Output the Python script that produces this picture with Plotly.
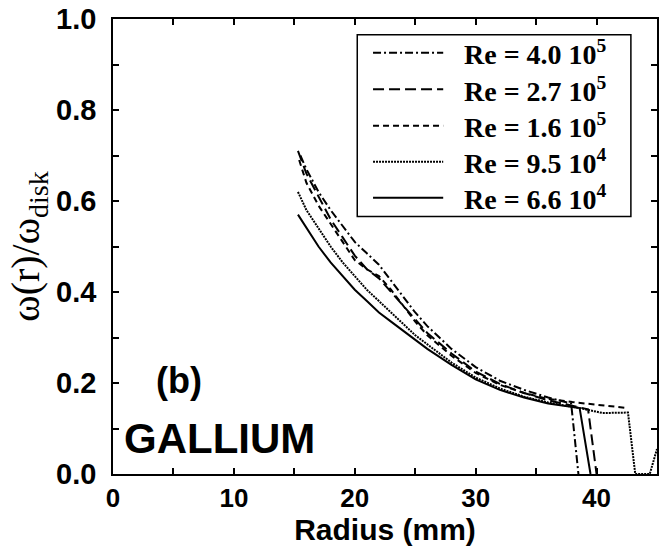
import plotly.graph_objects as go

# Re = 4.0 10^5 (dash-dot)
r_40e5 = [15.5, 16, 17, 18, 19, 20, 21, 22, 23, 24, 25, 26, 28, 30, 32, 34, 36, 37.9, 38.5]
w_40e5 = [0.70, 0.67, 0.62, 0.58, 0.545, 0.51, 0.485, 0.46, 0.425, 0.39, 0.355, 0.325, 0.275, 0.235, 0.205, 0.185, 0.168, 0.155, 0.0]
# Re = 2.7 10^5 (long dash)
r_27e5 = [15.3, 16, 17, 18, 19, 20, 21, 22, 23, 24, 25, 26, 28, 30, 32, 34, 36, 38, 39.3, 40.0]
w_27e5 = [0.71, 0.66, 0.61, 0.56, 0.52, 0.48, 0.45, 0.43, 0.40, 0.37, 0.34, 0.31, 0.265, 0.225, 0.198, 0.178, 0.162, 0.150, 0.142, 0.0]
# Re = 1.6 10^5 (short dash)
r_16e5 = [15.4, 16, 17, 18, 19, 20, 21, 22, 23, 24, 25, 26, 28, 30, 32, 34, 36, 38, 40, 42.6]
w_16e5 = [0.69, 0.64, 0.59, 0.55, 0.51, 0.47, 0.45, 0.435, 0.405, 0.37, 0.335, 0.305, 0.26, 0.222, 0.196, 0.178, 0.165, 0.158, 0.152, 0.145]
# Re = 9.5 10^4 (dotted)
r_95e4 = [15.3, 16, 17, 18, 19, 20, 21, 22, 23, 24, 25, 26, 28, 30, 32, 34, 36, 38.6, 40.5, 42.6, 43.2, 44.4, 45.0]
w_95e4 = [0.62, 0.58, 0.54, 0.50, 0.465, 0.435, 0.405, 0.38, 0.355, 0.33, 0.305, 0.285, 0.245, 0.212, 0.188, 0.170, 0.157, 0.145, 0.134, 0.135, 0.0, 0.0, 0.055]
# Re = 6.6 10^4 (solid)
r_66e4 = [15.3, 16, 17, 18, 19, 20, 21, 22, 23, 24, 25, 26, 28, 30, 32, 34, 36, 38.6, 39.5]
w_66e4 = [0.57, 0.54, 0.50, 0.465, 0.435, 0.405, 0.38, 0.355, 0.335, 0.315, 0.295, 0.275, 0.24, 0.208, 0.185, 0.168, 0.155, 0.145, 0.0]

labels = ["Re = 4.0 10<sup>5</sup>", "Re = 2.7 10<sup>5</sup>", "Re = 1.6 10<sup>5</sup>",
          "Re = 9.5 10<sup>4</sup>", "Re = 6.6 10<sup>4</sup>"]
xs = [r_40e5, r_27e5, r_16e5, r_95e4, r_66e4]
ys = [w_40e5, w_27e5, w_16e5, w_95e4, w_66e4]
dashes = ["8px,3px,2px,3px", "11px,5px", "6px,4px", "2px,1px", "solid"]

fig = go.Figure()
for x, y, lab, d in zip(xs, ys, labels, dashes):
    fig.add_trace(go.Scatter(x=x, y=y, mode="lines", name=lab, showlegend=False,
                             line=dict(color="black", width=2, dash=d)))

# Hand-drawn legend box (paper coordinates) so sample lines can be long
box_x0, box_x1, box_y0, box_y1 = 0.449, 0.952, 0.566, 0.9655
row_y = [0.926, 0.8455, 0.7655, 0.686, 0.607]
fig.add_shape(type="rect", xref="paper", yref="paper", x0=box_x0, x1=box_x1, y0=box_y0, y1=box_y1,
              line=dict(color="black", width=1.5), fillcolor="white", layer="above")
for yy, lab, d in zip(row_y, labels, dashes):
    fig.add_shape(type="line", xref="paper", yref="paper", x0=0.478, x1=0.607, y0=yy, y1=yy,
                  line=dict(color="black", width=2, dash=d), layer="above")
    fig.add_annotation(x=0.641, y=yy, xref="paper", yref="paper", text=lab, showarrow=False,
                       xanchor="left", yanchor="middle",
                       font=dict(family="Liberation Serif", size=28, color="black", weight="bold"))

axis_common = dict(showline=True, linecolor="black", linewidth=1.5, mirror="ticks",
                   ticks="inside", ticklen=6, tickwidth=1.5, tickcolor="black",
                   showgrid=False, zeroline=False, ticklabeloverflow="allow", automargin=False)

fig.update_xaxes(range=[0, 45], dtick=10, tick0=0,
                 tickfont=dict(family="Liberation Sans", size=26, color="black", weight="bold"),
                 minor=dict(dtick=5, ticks="inside", ticklen=6, tickwidth=1.5, tickcolor="black"),
                 title=dict(text="Radius (mm)", font=dict(family="Liberation Sans", size=30, color="black", weight="bold"), standoff=2),
                 **axis_common)
fig.update_yaxes(range=[0, 1.0], dtick=0.2, tick0=0, tickformat=".1f",
                 tickfont=dict(family="Liberation Sans", size=29, color="black", weight="bold"),
                 ticklabelstandoff=9,
                 minor=dict(dtick=0.1, ticks="inside", ticklen=6, tickwidth=1.5, tickcolor="black"),
                 title=dict(text="ω(r)/ω<sub>disk</sub>", font=dict(family="Liberation Serif", size=40, color="black"), standoff=4),
                 **axis_common)

fig.add_annotation(x=5.5, y=0.205, xref="x", yref="y", text="(b)", showarrow=False,
                   font=dict(family="Liberation Sans", size=36, color="black", weight="bold"))
fig.add_annotation(x=8.85, y=0.078, xref="x", yref="y", text="GALLIUM", showarrow=False,
                   font=dict(family="Liberation Sans", size=42, color="black", weight="bold"))

fig.update_layout(
    width=660, height=548,
    margin=dict(l=113.3, r=3.3, t=19.3, b=74, autoexpand=False),
    paper_bgcolor="white", plot_bgcolor="white",
    showlegend=False,
)

fig.write_html("out.html", config={"displayModeBar": False},
               post_script="document.body.style.margin='0';")
